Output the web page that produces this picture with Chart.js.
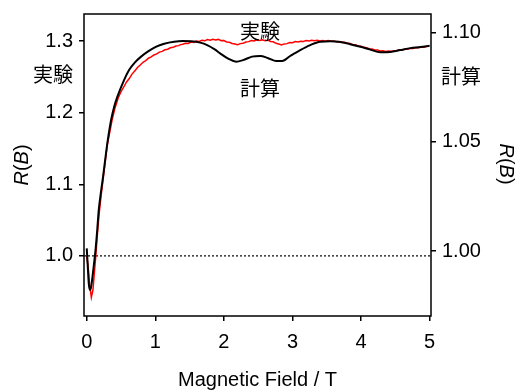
<!DOCTYPE html>
<html>
<head>
<meta charset="utf-8">
<script src="https://cdn.jsdelivr.net/npm/chart.js@4"></script>
<style>
  html, body { margin: 0; padding: 0; background: #fff; }
  #wrap { width: 520px; height: 391px; }
</style>
</head>
<body>
<div id="wrap"><canvas id="rbChart" width="520" height="391"></canvas></div>
<script>
// experiment (left axis)
var expField = [0.0, 0.02, 0.04, 0.067, 0.09, 0.11, 0.13, 0.155, 0.18, 0.21, 0.24, 0.27, 0.30, 0.34, 0.37, 0.41,
    0.46, 0.50, 0.54, 0.58, 0.62, 0.66, 0.70, 0.74, 0.78, 0.82, 0.86, 0.90, 0.94, 0.98, 1.02, 1.06, 1.10, 1.14, 1.18, 1.22, 1.26, 1.30, 1.34, 1.37,
    1.40, 1.44, 1.48, 1.52, 1.56, 1.60, 1.64, 1.68, 1.72, 1.76, 1.80, 1.84, 1.88, 1.92, 1.96, 2.00, 2.04, 2.08, 2.12, 2.16,
    2.20, 2.24, 2.28, 2.32, 2.36, 2.40, 2.44, 2.48, 2.52, 2.56, 2.60, 2.64, 2.68, 2.72, 2.76, 2.80, 2.84, 2.88, 2.92, 2.96,
    3.00, 3.04, 3.08, 3.12, 3.16, 3.20, 3.24, 3.28, 3.32, 3.36, 3.40, 3.44, 3.48, 3.52, 3.56, 3.60, 3.64, 3.68, 3.72, 3.76,
    3.80, 3.84, 3.88, 3.92, 3.96, 4.00, 4.04, 4.08, 4.12, 4.16, 4.20, 4.24, 4.28, 4.32, 4.36, 4.40, 4.44, 4.48, 4.52, 4.56,
    4.60, 4.64, 4.68, 4.72, 4.76, 4.80, 4.84, 4.88, 4.92, 4.96, 4.98];
var expR = [1.000, 0.985, 0.962, 0.942, 0.952, 0.975, 0.998, 1.030, 1.058, 1.085, 1.108, 1.132, 1.155, 1.175, 1.190, 1.206,
    1.2210, 1.2295, 1.2360, 1.2430, 1.2478, 1.2540, 1.2585, 1.2632, 1.2668, 1.2706, 1.2728, 1.2762, 1.2780, 1.2808, 1.2822, 1.2848, 1.2858, 1.2880, 1.2888, 1.2908, 1.2914, 1.2932, 1.2938, 1.2952,
    1.2958, 1.2972, 1.2969, 1.2988, 1.2982, 1.3003, 1.2996, 1.3012, 1.3005, 1.3022, 1.3014, 1.3026, 1.3017, 1.3025, 1.3008, 1.3010, 1.2990, 1.2984, 1.2968, 1.2962,
    1.2950, 1.2966, 1.2970, 1.2988, 1.2994, 1.3008, 1.3002, 1.3018, 1.3010, 1.3020, 1.3008, 1.3014, 1.2996, 1.2992, 1.2970, 1.2960, 1.2948, 1.2962, 1.2966, 1.2982,
    1.2978, 1.2994, 1.2988, 1.3000, 1.2995, 1.3008, 1.3002, 1.3013, 1.3006, 1.3012, 1.3004, 1.3010, 1.3000, 1.3008, 1.2998, 1.3002, 1.2992, 1.2996, 1.2983, 1.2986,
    1.2970, 1.2968, 1.2952, 1.2950, 1.2932, 1.2930, 1.2914, 1.2910, 1.2895, 1.2892, 1.2878, 1.2876, 1.2862, 1.2866, 1.2855, 1.2864, 1.2858, 1.2868, 1.2866, 1.2880,
    1.2876, 1.2892, 1.2888, 1.2902, 1.2898, 1.2912, 1.2908, 1.2920, 1.2916, 1.2930, 1.2934];

// calculation (right axis)
var calcField = [0, 0.015, 0.03, 0.048, 0.065, 0.085, 0.105, 0.125, 0.15, 0.175, 0.205, 0.238, 0.27, 0.30, 0.355, 0.40, 0.447, 0.544, 0.617, 0.70, 0.788, 0.90, 1.007, 1.13, 1.274, 1.40, 1.52, 1.654, 1.756, 1.872, 1.945, 2.062, 2.18, 2.28, 2.41, 2.53, 2.646, 2.763, 2.85, 2.967, 3.113, 3.26, 3.405, 3.55, 3.697, 3.84, 3.99, 4.135, 4.28, 4.427, 4.572, 4.72, 4.865, 5.0];
var calcR = [1.0012, 0.9930, 0.9850, 0.9822, 0.9838, 0.9885, 0.9940, 0.9995, 1.0085, 1.0187, 1.0265, 1.0340, 1.0420, 1.0492, 1.0599, 1.0660, 1.0706, 1.0782, 1.0828, 1.0862, 1.0888, 1.0914, 1.0934, 1.0948, 1.0957, 1.0960, 1.0959, 1.0953, 1.0942, 1.0921, 1.0904, 1.0880, 1.0866, 1.0873, 1.0889, 1.0892, 1.0882, 1.0869, 1.0869, 1.0892, 1.0919, 1.0942, 1.0957, 1.0959, 1.0956, 1.0946, 1.0934, 1.0921, 1.0909, 1.0910, 1.0919, 1.0928, 1.0933, 1.0939];

var fieldTicks = [0, 1, 2, 3, 4, 5];
var leftTicks = [1.0, 1.1, 1.2, 1.3];
var rightTicks = [1.00, 1.05, 1.10];
var baseLine = 1.0;

var FONT = '"Liberation Sans", Arial, "Noto Sans CJK JP", sans-serif';

function pts(xs, ys) {
    return xs.map(function(x, i) { return { x: x, y: ys[i] }; });
}

// frame, labels and R(B) titles
var decorations = {
    id: 'decorations',
    afterDatasetsDraw: function(chart) {
        var ctx = chart.ctx, a = chart.chartArea;
        ctx.save();
        ctx.strokeStyle = '#000';
        ctx.lineWidth = 1.5;
        ctx.strokeRect(a.left, a.top, a.right - a.left, a.bottom - a.top);

        ctx.fillStyle = '#000';
        ctx.font = '20px ' + FONT;
        ctx.textAlign = 'center';
        ctx.textBaseline = 'middle';
        ctx.fillText('実験', 53, 76);
        ctx.fillText('実験', 260, 33);
        ctx.fillText('計算', 260, 90);
        ctx.fillText('計算', 461, 78);

        ctx.textBaseline = 'alphabetic';
        ctx.fillText('Magnetic Field / T', (a.left + a.right) / 2, 386);

        drawRB(ctx, 22, 165, -Math.PI / 2);
        drawRB(ctx, 506, 164, Math.PI / 2);
        ctx.restore();
    }
};

function drawRB(ctx, cx, cy, angle) {
    var parts = [['R', true], ['(', false], ['B', true], [')', false]];
    var widths = parts.map(function(p) {
        ctx.font = (p[1] ? 'italic ' : '') + '20px ' + FONT;
        return ctx.measureText(p[0]).width;
    });
    var total = widths.reduce(function(s, w) { return s + w; }, 0);
    ctx.save();
    ctx.translate(cx, cy);
    ctx.rotate(angle);
    ctx.textAlign = 'left';
    ctx.textBaseline = 'middle';
    var x = -total / 2;
    parts.forEach(function(p, i) {
        ctx.font = (p[1] ? 'italic ' : '') + '20px ' + FONT;
        ctx.fillText(p[0], x, 0);
        x += widths[i];
    });
    ctx.restore();
}

function noPad(s) {
    s.paddingTop = 0; s.paddingBottom = 0; s.paddingLeft = 0; s.paddingRight = 0;
}

document.addEventListener('DOMContentLoaded', function() {
    var ctx = document.getElementById('rbChart').getContext('2d');
    var tickGrid = {
        drawOnChartArea: false,
        drawTicks: true,
        tickLength: 5,
        color: '#000',
        lineWidth: 1.5
    };
    var chart = new Chart(ctx, {
        type: 'line',
        data: {
            datasets: [{
                label: '計算',
                data: pts(calcField, calcR),
                yAxisID: 'yR',
                borderColor: '#000',
                borderWidth: 2,
                pointRadius: 0,
                cubicInterpolationMode: 'monotone',
                fill: false
            }, {
                label: '実験',
                data: pts(expField, expR),
                yAxisID: 'y',
                borderColor: '#ff0000',
                borderWidth: 1.5,
                pointRadius: 0,
                tension: 0,
                fill: false
            }, {
                label: 'baseline',
                data: [{ x: -0.04, y: baseLine }, { x: 5.02, y: baseLine }],
                yAxisID: 'y',
                borderColor: '#000',
                borderWidth: 1.2,
                borderDash: [2, 2],
                pointRadius: 0,
                fill: false
            }]
        },
        options: {
            responsive: false,
            animation: false,
            devicePixelRatio: 1,
            layout: { padding: { top: 14, left: 0, right: 0, bottom: 0 } },
            plugins: {
                legend: { display: false },
                tooltip: { enabled: false }
            },
            scales: {
                x: {
                    type: 'linear',
                    min: -0.04,
                    max: 5.02,
                    grid: tickGrid,
                    border: { display: false },
                    afterBuildTicks: function(s) { s.ticks = fieldTicks.map(function(v) { return { value: v }; }); },
                    afterFit: function(s) { s.height = 75; noPad(s); },
                    ticks: {
                        color: '#000',
                        padding: 9,
                        maxRotation: 0,
                        font: { family: FONT, size: 20 },
                        callback: function(v) { return String(v); }
                    }
                },
                y: {
                    position: 'left',
                    min: 0.916,
                    max: 1.338,
                    grid: tickGrid,
                    border: { display: false },
                    afterBuildTicks: function(s) { s.ticks = leftTicks.map(function(v) { return { value: v }; }); },
                    afterFit: function(s) { s.width = 84; noPad(s); },
                    ticks: {
                        color: '#000',
                        padding: 6,
                        font: { family: FONT, size: 20 },
                        callback: function(v) { return Number(v).toFixed(1); }
                    }
                },
                yR: {
                    position: 'right',
                    min: 0.9703,
                    max: 1.1084,
                    grid: tickGrid,
                    border: { display: false },
                    afterBuildTicks: function(s) { s.ticks = rightTicks.map(function(v) { return { value: v }; }); },
                    afterFit: function(s) { s.width = 89; noPad(s); },
                    ticks: {
                        color: '#000',
                        padding: 6,
                        font: { family: FONT, size: 20 },
                        callback: function(v) { return Number(v).toFixed(2); }
                    }
                }
            }
        },
        plugins: [decorations]
    });
});
</script>
</body>
</html>
